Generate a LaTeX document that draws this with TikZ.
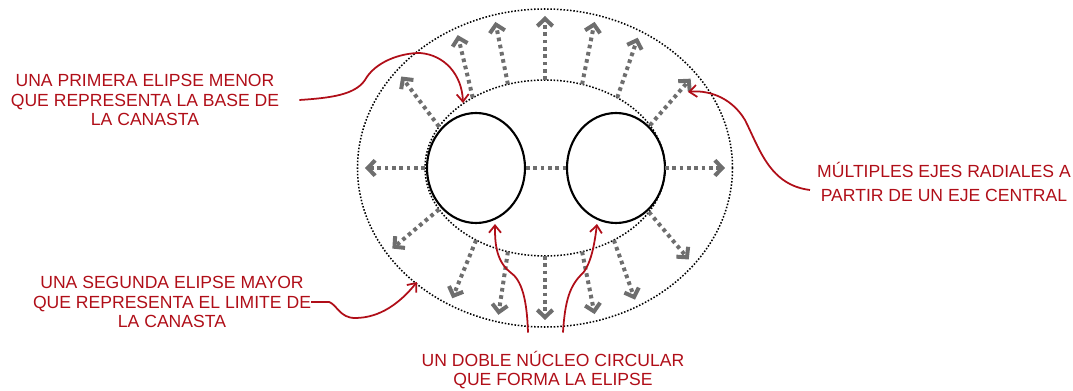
\documentclass[tikz,border=0pt]{standalone}
\usepackage{fontspec}
\setmainfont{Liberation Sans}
\usetikzlibrary{arrows.meta,shapes.geometric,calc}
\definecolor{tinta}{RGB}{176,14,24}
\definecolor{eje}{RGB}{110,110,110}
\tikzset{
  rotulo/.style={text=tinta, align=center, inner sep=0pt, font=\fontsize{15}{17}\selectfont},
  llamada/.style={tinta, line width=1.5pt, -{Straight Barb[length=2.2mm,width=3.6mm]}},
  radial/.style={eje, line width=1.2mm, dash pattern=on 1.1mm off 1.1mm, -{Straight Barb[length=2.2mm,width=4.6mm]}},
  contorno/.style={line width=1.3pt, dash pattern=on 1.3pt off 1.5pt},
  nucleo/.style={draw, ellipse, line width=1.8pt, minimum width=29.4mm, minimum height=33mm, inner sep=0pt},
}
\begin{document}
\begin{tikzpicture}[x=0.3mm,y=0.3mm]
\useasboundingbox (-545,-223) rectangle (528,168);

% las dos elipses de la canasta
\draw[contorno] (0,0) ellipse [x radius=187.5, y radius=159];
\draw[contorno] (0,0) ellipse [x radius=120, y radius=88];

\node[nucleo] (izq) at (-69,0) {};
\node[nucleo] (der) at (71,0) {};

% ejes radiales
\foreach \s/\e in {0/0,29/36,53/59,72/74,90/90,108/106,127/119,152/143,180/180,
                  208/212,235/239,252/255,270/270,288/286,305/300,330/323}
  \draw[radial] (\s:120 and 88) -- (\e:180 and 152);
\draw[radial,-] (izq.east) -- (der.west);

% rotulos
\node[rotulo] (primera) at (-400,68) {UNA PRIMERA ELIPSE MENOR\\QUE REPRESENTA LA BASE DE\\LA CANASTA};
\node[rotulo] (segunda) at (-373,-134) {UNA SEGUNDA ELIPSE MAYOR\\QUE REPRESENTA EL LIMITE DE\\LA CANASTA};
\node[rotulo, font=\fontsize{15}{20.5}\selectfont] (multiples) at (399,-14) {MÚLTIPLES EJES RADIALES A\\PARTIR DE UN EJE CENTRAL};
\node[rotulo] (doble) at (8,-202) {UN DOBLE NÚCLEO CIRCULAR\\QUE FORMA LA ELIPSE};

\coordinate (base) at (-82,65);
\coordinate (limite) at (-128,-114);
\coordinate (punta) at (143,76);
\coordinate (fondoizq) at (-50,-56);
\coordinate (fondoder) at (52,-56);

% llamadas
\draw[llamada] ($(primera.east)+(20,0)$) .. controls (-215,70) and (-190,73) .. (-180,88)
  .. controls (-170,106) and (-145,115) .. (-125,115) .. controls (-100,113) and (-83,93) .. (base);
\draw[llamada] (segunda.east) -- ++(18,0) .. controls (-208,-137) and (-205,-150) .. (-190,-150)
  .. controls (-165,-150) and (-145,-135) .. (limite);
\draw[llamada] ($(multiples.west)+(-7,-8)$) .. controls (225,-17) and (215,18) .. (200,48)
  .. controls (185,73) and (160,78) .. (punta);
\draw[llamada] ($(doble.north)+(-25,18)$) .. controls (-18,-132) and (-23,-112) .. (-35,-104)
  .. controls (-50,-92) and (-50,-72) .. (fondoizq);
\draw[llamada] ($(doble.north)+(10,18)$) .. controls (20,-132) and (25,-117) .. (38,-105)
  .. controls (47,-94) and (50,-72) .. (fondoder);

\end{tikzpicture}
\end{document}
